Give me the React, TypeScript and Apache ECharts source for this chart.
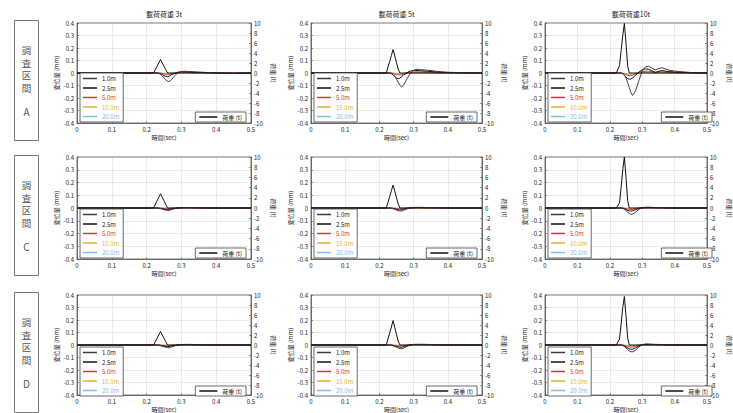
import React, { useEffect, useRef } from "react";
import * as echarts from "echarts";

// ---------- data ----------
const TIMES = [0, 0.2, 0.22, 0.23, 0.235, 0.24, 0.245, 0.25, 0.255, 0.26, 0.265, 0.27, 0.28, 0.29, 0.3, 0.31, 0.32, 0.34, 0.36, 0.38, 0.4, 0.45, 0.5];
const DIST_NAMES = ["1.0m", "2.5m", "5.0m", "10.0m", "20.0m"];
const LOAD_NAME = "荷重 (t)";
const COL_TITLES = ["載荷荷重 3t", "載荷荷重 5t", "載荷荷重10t"];
const ROW_CHARS = ["調", "査", "区", "間"];
const ROW_NAMES = ["A", "C", "D"];

const LOAD_A3 = [0, 0, 0, 1.35, 2.0, 2.7, 2.0, 1.35, 0.7, 0, 0, 0, 0, 0, 0, 0, 0, 0, 0, 0, 0, 0, 0];
const DISP_A3 = [
  [0, 0, 0, 0, -0.003, -0.01, -0.022, -0.038, -0.055, -0.066, -0.068, -0.058, -0.025, 0.003, 0.012, 0.014, 0.012, 0.009, 0.006, 0.003, 0, -0.004, 0],
  [0, 0, 0, 0, -0.002, -0.006, -0.012, -0.02, -0.026, -0.028, -0.024, -0.016, -0.004, 0.006, 0.01, 0.01, 0.009, 0.006, 0.004, 0.002, 0, -0.002, 0],
  [0, 0, 0, 0, 0, -0.002, -0.004, -0.007, -0.01, -0.011, -0.01, -0.007, -0.002, 0.003, 0.005, 0.005, 0.004, 0.003, 0.002, 0.001, 0, -0.001, 0],
  [0, 0, 0, 0, 0, -0.001, -0.002, -0.004, -0.005, -0.006, -0.006, -0.005, -0.002, 0.001, 0.003, 0.003, 0.003, 0.002, 0.001, 0, 0, 0, 0],
  [0, 0, 0, 0, 0, 0, -0.001, -0.002, -0.003, -0.003, -0.003, -0.003, -0.001, 0, 0.001, 0.002, 0.002, 0.001, 0.001, 0, 0, 0, 0],
];
const LOAD_A5 = [0, 0, 0, 2.3, 3.5, 4.7, 3.4, 2.1, 0.8, 0, 0, 0, 0, 0, 0, 0, 0, 0, 0, 0, 0, 0, 0];
const DISP_A5 = [
  [0, 0, 0, 0, -0.004, -0.012, -0.028, -0.05, -0.075, -0.098, -0.11, -0.1, -0.05, -0.005, 0.022, 0.03, 0.028, 0.022, 0.016, 0.01, 0.006, 0.002, 0],
  [0, 0, 0, 0, -0.005, -0.015, -0.028, -0.04, -0.045, -0.04, -0.03, -0.018, 0.002, 0.015, 0.02, 0.02, 0.018, 0.014, 0.01, 0.006, 0.004, 0.001, 0],
  [0, 0, 0, 0, 0, -0.004, -0.008, -0.012, -0.015, -0.016, -0.014, -0.01, -0.002, 0.005, 0.008, 0.009, 0.008, 0.006, 0.004, 0.002, 0.001, 0, 0],
  [0, 0, 0, 0, 0, -0.002, -0.004, -0.006, -0.008, -0.008, -0.007, -0.005, -0.001, 0.002, 0.004, 0.004, 0.004, 0.003, 0.002, 0.001, 0, 0, 0],
  [0, 0, 0, 0, 0, -0.001, -0.002, -0.003, -0.004, -0.004, -0.004, -0.003, -0.001, 0.001, 0.002, 0.002, 0.002, 0.001, 0.001, 0, 0, 0, 0],
];
const LOAD_A10 = [0, 0, 0, 1.5, 4.5, 7.5, 9.9, 6.0, 1.5, 0, 0, 0, 0, 0, 0, 0, 0, 0, 0, 0, 0, 0, 0];
const DISP_A10 = [
  [0, 0, 0, 0, 0, -0.005, -0.015, -0.04, -0.075, -0.115, -0.155, -0.18, -0.14, -0.06, 0.015, 0.05, 0.055, 0.025, 0.043, 0.025, 0.015, 0.004, 0],
  [0, 0, 0, 0, 0, -0.006, -0.018, -0.032, -0.045, -0.05, -0.048, -0.04, -0.018, 0.008, 0.025, 0.033, 0.03, 0.005, 0.02, 0.012, 0.008, 0.002, 0],
  [0, 0, 0, 0, 0, -0.003, -0.008, -0.013, -0.018, -0.021, -0.021, -0.018, -0.008, 0.004, 0.012, 0.015, 0.014, 0.006, 0.01, 0.006, 0.004, 0.001, 0],
  [0, 0, 0, 0, 0, -0.002, -0.004, -0.007, -0.009, -0.011, -0.011, -0.009, -0.004, 0.002, 0.006, 0.008, 0.007, 0.003, 0.005, 0.003, 0.002, 0, 0],
  [0, 0, 0, 0, 0, -0.001, -0.002, -0.003, -0.005, -0.005, -0.005, -0.004, -0.002, 0.001, 0.003, 0.004, 0.003, 0.002, 0.002, 0.001, 0.001, 0, 0],
];
const LOAD_C3 = [0, 0, 0, 1.4, 2.1, 2.8, 2.1, 1.4, 0.7, 0, 0, 0, 0, 0, 0, 0, 0, 0, 0, 0, 0, 0, 0];
const DISP_C3 = [
  [0, 0, 0, 0, -0.002, -0.005, -0.009, -0.013, -0.017, -0.019, -0.018, -0.014, -0.006, 0, 0.003, 0.004, 0.004, 0.003, 0.002, 0.001, 0, 0, 0],
  [0, 0, 0, 0, -0.001, -0.003, -0.006, -0.009, -0.011, -0.012, -0.011, -0.008, -0.003, 0.001, 0.002, 0.003, 0.003, 0.002, 0.001, 0, 0, 0, 0],
  [0, 0, 0, 0, 0, -0.001, -0.003, -0.004, -0.005, -0.006, -0.006, -0.004, -0.002, 0, 0.001, 0.002, 0.002, 0.001, 0.001, 0, 0, 0, 0],
  [0, 0, 0, 0, 0, 0, -0.001, -0.002, -0.003, -0.003, -0.003, -0.002, -0.001, 0, 0.001, 0.001, 0.001, 0, 0, 0, 0, 0, 0],
  [0, 0, 0, 0, 0, 0, 0, -0.001, -0.001, -0.002, -0.002, -0.001, 0, 0, 0, 0.001, 0, 0, 0, 0, 0, 0, 0],
];
const LOAD_C5 = [0, 0, 0, 2.2, 3.4, 4.5, 3.3, 2.0, 0.8, 0, 0, 0, 0, 0, 0, 0, 0, 0, 0, 0, 0, 0, 0];
const DISP_C5 = [
  [0, 0, 0, 0, -0.002, -0.006, -0.011, -0.016, -0.021, -0.024, -0.024, -0.019, -0.008, 0, 0.004, 0.005, 0.005, 0.004, 0.003, 0.002, 0.001, 0, 0],
  [0, 0, 0, 0, -0.001, -0.004, -0.007, -0.011, -0.014, -0.015, -0.013, -0.009, -0.003, 0.001, 0.003, 0.004, 0.003, 0.002, 0.002, 0.001, 0, 0, 0],
  [0, 0, 0, 0, 0, -0.002, -0.003, -0.005, -0.006, -0.007, -0.007, -0.005, -0.002, 0, 0.001, 0.002, 0.002, 0.001, 0.001, 0, 0, 0, 0],
  [0, 0, 0, 0, 0, -0.001, -0.002, -0.002, -0.003, -0.003, -0.003, -0.002, -0.001, 0, 0.001, 0.001, 0.001, 0, 0, 0, 0, 0, 0],
  [0, 0, 0, 0, 0, 0, -0.001, -0.001, -0.002, -0.002, -0.002, -0.001, 0, 0, 0, 0, 0, 0, 0, 0, 0, 0, 0],
];
const LOAD_C10 = [0, 0, 0, 1.0, 4.0, 7.5, 10.0, 6.0, 1.5, 0, 0, 0, 0, 0, 0, 0, 0, 0, 0, 0, 0, 0, 0];
const DISP_C10 = [
  [0, 0, 0, 0, 0, -0.003, -0.01, -0.02, -0.032, -0.043, -0.05, -0.048, -0.032, -0.01, 0.002, 0.006, 0.006, 0.004, 0.003, 0.002, 0.001, 0, 0],
  [0, 0, 0, 0, 0, -0.002, -0.006, -0.012, -0.018, -0.023, -0.025, -0.022, -0.013, -0.003, 0.002, 0.004, 0.004, 0.003, 0.002, 0.001, 0, 0, 0],
  [0, 0, 0, 0, 0, -0.001, -0.003, -0.006, -0.009, -0.011, -0.012, -0.011, -0.006, -0.001, 0.001, 0.002, 0.002, 0.001, 0.001, 0, 0, 0, 0],
  [0, 0, 0, 0, 0, 0, -0.001, -0.003, -0.004, -0.005, -0.006, -0.005, -0.003, -0.001, 0.001, 0.001, 0.001, 0.001, 0, 0, 0, 0, 0],
  [0, 0, 0, 0, 0, 0, -0.001, -0.001, -0.002, -0.003, -0.003, -0.002, -0.001, 0, 0, 0.001, 0, 0, 0, 0, 0, 0, 0],
];
const LOAD_D3 = [0, 0, 0, 1.35, 2.0, 2.7, 2.0, 1.35, 0.7, 0, 0, 0, 0, 0, 0, 0, 0, 0, 0, 0, 0, 0, 0];
const DISP_D3 = [
  [0, 0, 0, 0, -0.002, -0.005, -0.01, -0.014, -0.018, -0.021, -0.022, -0.017, -0.008, 0, 0.004, 0.005, 0.005, 0.004, 0.003, 0.002, 0.001, 0, 0],
  [0, 0, 0, 0, -0.001, -0.003, -0.006, -0.009, -0.011, -0.012, -0.012, -0.009, -0.004, 0.001, 0.003, 0.003, 0.003, 0.002, 0.001, 0, 0, 0, 0],
  [0, 0, 0, 0, 0, -0.001, -0.003, -0.004, -0.005, -0.006, -0.006, -0.005, -0.002, 0, 0.001, 0.002, 0.002, 0.001, 0.001, 0, 0, 0, 0],
  [0, 0, 0, 0, 0, 0, -0.001, -0.002, -0.003, -0.003, -0.003, -0.002, -0.001, 0, 0.001, 0.001, 0.001, 0, 0, 0, 0, 0, 0],
  [0, 0, 0, 0, 0, 0, 0, -0.001, -0.001, -0.002, -0.002, -0.001, 0, 0, 0, 0.001, 0, 0, 0, 0, 0, 0, 0],
];
const LOAD_D5 = [0, 0, 0, 2.4, 3.6, 4.9, 3.5, 2.1, 0.8, 0, 0, 0, 0, 0, 0, 0, 0, 0, 0, 0, 0, 0, 0];
const DISP_D5 = [
  [0, 0, 0, 0, -0.002, -0.006, -0.012, -0.018, -0.024, -0.028, -0.03, -0.026, -0.012, 0, 0.005, 0.006, 0.006, 0.005, 0.003, 0.002, 0.001, 0, 0],
  [0, 0, 0, 0, -0.001, -0.004, -0.008, -0.012, -0.015, -0.017, -0.018, -0.014, -0.006, 0.001, 0.004, 0.004, 0.004, 0.003, 0.002, 0.001, 0, 0, 0],
  [0, 0, 0, 0, 0, -0.002, -0.004, -0.006, -0.008, -0.009, -0.009, -0.007, -0.003, 0, 0.002, 0.002, 0.002, 0.001, 0.001, 0, 0, 0, 0],
  [0, 0, 0, 0, 0, -0.001, -0.002, -0.003, -0.004, -0.004, -0.004, -0.003, -0.001, 0, 0.001, 0.001, 0.001, 0, 0, 0, 0, 0, 0],
  [0, 0, 0, 0, 0, 0, -0.001, -0.001, -0.002, -0.002, -0.002, -0.002, -0.001, 0, 0, 0.001, 0, 0, 0, 0, 0, 0, 0],
];
const LOAD_D10 = [0, 0, 0, 1.2, 4.2, 7.5, 9.7, 5.8, 1.5, 0, 0, 0, 0, 0, 0, 0, 0, 0, 0, 0, 0, 0, 0];
const DISP_D10 = [
  [0, 0, 0, 0, 0, -0.004, -0.012, -0.024, -0.036, -0.047, -0.054, -0.055, -0.04, -0.015, 0.002, 0.008, 0.008, 0.005, 0.004, 0.002, 0.001, 0, 0],
  [0, 0, 0, 0, 0, -0.003, -0.008, -0.015, -0.023, -0.03, -0.034, -0.033, -0.022, -0.007, 0.002, 0.005, 0.005, 0.003, 0.002, 0.001, 0, 0, 0],
  [0, 0, 0, 0, 0, -0.001, -0.004, -0.008, -0.012, -0.015, -0.017, -0.016, -0.01, -0.003, 0.001, 0.003, 0.003, 0.002, 0.001, 0, 0, 0, 0],
  [0, 0, 0, 0, 0, 0, -0.002, -0.004, -0.005, -0.007, -0.008, -0.007, -0.004, -0.001, 0.001, 0.001, 0.001, 0.001, 0, 0, 0, 0, 0],
  [0, 0, 0, 0, 0, 0, -0.001, -0.002, -0.003, -0.003, -0.004, -0.003, -0.002, 0, 0, 0.001, 0, 0, 0, 0, 0, 0, 0],
];

const LOADS = [LOAD_A3, LOAD_A5, LOAD_A10, LOAD_C3, LOAD_C5, LOAD_C10, LOAD_D3, LOAD_D5, LOAD_D10];
const DISPS = [DISP_A3, DISP_A5, DISP_A10, DISP_C3, DISP_C5, DISP_C10, DISP_D3, DISP_D5, DISP_D10];

// ---------- layout / style ----------
const W = 733;
const H = 413;
const COL_LEFT = [77, 311, 545];
const COL_WIDTH = [174, 171, 172];
const ROW_TOP = [23, 157, 295];
const ROW_HEIGHT = [100, 102, 102];
const BOX_TOP = [20, 155, 292];
const BOX_H = 120;
const LINE_COLORS = ["#3c3c4e", "#111111", "#d8363c", "#e6b030", "#7cc2e6"];
const FONT = "'Noto Sans CJK JP', 'Noto Sans', sans-serif";
const AX = "#555";
const TXT = "#222";

function fmt1(v: number) {
  if (Math.abs(v) < 1e-9) return "0";
  return String(+v.toFixed(1));
}
function fmt0(v: number) {
  return String(Math.round(v));
}

function buildOption() {
  const grid: any[] = [];
  const xAxis: any[] = [];
  const yAxis: any[] = [];
  const series: any[] = [];
  const legend: any[] = [];
  const graphic: any[] = [];

  for (let r = 0; r < 3; r++) {
    for (let c = 0; c < 3; c++) {
      const p = r * 3 + c;
      const left = COL_LEFT[c];
      const width = COL_WIDTH[c];
      const top = ROW_TOP[r];
      const height = ROW_HEIGHT[r];
      const bottomPx = top + height;
      grid.push({ left, top, width, height, show: true, borderColor: AX, borderWidth: 0.8, backgroundColor: "transparent" });
      xAxis.push({
        type: "value",
        gridIndex: p,
        min: 0,
        max: 0.5,
        interval: 0.1,
        name: "時間(sec)",
        nameLocation: "middle",
        nameGap: 11,
        nameTextStyle: { fontSize: 6, color: TXT, fontFamily: FONT },
        axisLine: { onZero: false, lineStyle: { color: AX, width: 0.8 } },
        axisTick: { inside: true, length: 2, lineStyle: { color: AX, width: 0.6 } },
        axisLabel: { fontSize: 6, color: TXT, margin: 3, formatter: fmt1 },
        splitLine: { show: true, lineStyle: { type: "dotted", color: "#bbbbbb", width: 0.6 } },
      });
      yAxis.push({
        type: "value",
        gridIndex: p,
        position: "left",
        min: -0.4,
        max: 0.4,
        interval: 0.1,
        name: "変位量 (mm)",
        nameLocation: "middle",
        nameGap: 17,
        nameRotate: 90,
        nameTextStyle: { fontSize: 6, color: TXT, fontFamily: FONT },
        axisLine: { show: true, onZero: false, lineStyle: { color: AX, width: 0.8 } },
        axisTick: { show: true, inside: true, length: 2, lineStyle: { color: AX, width: 0.6 } },
        axisLabel: { fontSize: 6, color: TXT, margin: 3, formatter: fmt1 },
        splitLine: { show: true, lineStyle: { type: "dotted", color: "#bbbbbb", width: 0.6 } },
      });
      yAxis.push({
        type: "value",
        gridIndex: p,
        position: "right",
        min: -10,
        max: 10,
        interval: 2,
        name: "荷重 (t)",
        nameLocation: "middle",
        nameGap: 19,
        nameRotate: -90,
        nameTextStyle: { fontSize: 6, color: TXT, fontFamily: FONT },
        axisLine: { show: true, onZero: false, lineStyle: { color: AX, width: 0.8 } },
        axisTick: { show: true, inside: true, length: 2, lineStyle: { color: AX, width: 0.6 } },
        axisLabel: { show: true, fontSize: 6, color: TXT, margin: 3, formatter: fmt0 },
        splitLine: { show: false },
      });
      const disp = DISPS[p];
      for (let i = 4; i >= 0; i--) {
        series.push({
          type: "line",
          name: DIST_NAMES[i],
          xAxisIndex: p,
          yAxisIndex: 2 * p,
          symbol: "none",
          showSymbol: false,
          lineStyle: { width: 1, color: LINE_COLORS[i] },
          itemStyle: { color: LINE_COLORS[i] },
          data: TIMES.map((t, k) => [t, disp[i][k]]),
          z: 2,
        });
      }
      series.push({
        type: "line",
        name: LOAD_NAME,
        xAxisIndex: p,
        yAxisIndex: 2 * p + 1,
        symbol: "none",
        showSymbol: false,
        lineStyle: { width: 1, color: "#111" },
        itemStyle: { color: "#111" },
        data: TIMES.map((t, k) => [t, LOADS[p][k]]),
        z: 3,
      });
      legend.push({
        data: DIST_NAMES.map((n, i) => ({ name: n, textStyle: { color: i < 2 ? "#222" : LINE_COLORS[i] } })),
        orient: "vertical",
        left: left + 3,
        bottom: H - bottomPx + 1,
        icon: "rect",
        itemWidth: 14,
        itemHeight: 1.5,
        itemGap: 2.5,
        padding: [2, 4, 2, 3],
        borderColor: "#444",
        borderWidth: 0.8,
        backgroundColor: "#fff",
        textStyle: { fontSize: 6, lineHeight: 7, fontFamily: FONT },
        selectedMode: false,
        z: 5,
      });
      legend.push({
        data: [LOAD_NAME],
        orient: "horizontal",
        right: W - (left + width) + 5,
        bottom: H - bottomPx + 1,
        icon: "rect",
        itemWidth: 18,
        itemHeight: 1.5,
        padding: [2, 4, 2, 4],
        borderColor: "#444",
        borderWidth: 0.8,
        backgroundColor: "#fff",
        textStyle: { fontSize: 6, color: "#222", fontFamily: FONT },
        selectedMode: false,
        z: 5,
      });
    }
  }

  for (let c = 0; c < 3; c++) {
    graphic.push({
      type: "text",
      x: COL_LEFT[c] + COL_WIDTH[c] / 2,
      y: 14,
      style: { text: COL_TITLES[c], fontSize: 7, fill: TXT, fontFamily: FONT, align: "center", verticalAlign: "middle" },
    });
  }
  for (let r = 0; r < 3; r++) {
    graphic.push({
      type: "rect",
      shape: { x: 14.5, y: BOX_TOP[r] + 0.5, width: 24, height: BOX_H },
      style: { fill: "none", stroke: "#777", lineWidth: 1 },
    });
    ROW_CHARS.forEach((ch, k) => {
      graphic.push({
        type: "text",
        x: 26.5,
        y: BOX_TOP[r] + 30 + k * 12.5,
        style: { text: ch, fontSize: 9.5, lineHeight: 11, fill: "#555", fontFamily: FONT, align: "center", verticalAlign: "middle" },
      });
    });
    graphic.push({
      type: "text",
      x: 26.5,
      y: BOX_TOP[r] + 91,
      style: { text: ROW_NAMES[r], fontSize: 10, fill: "#555", fontFamily: FONT, align: "center", verticalAlign: "middle" },
    });
  }

  return {
    animation: false,
    backgroundColor: "#fff",
    textStyle: { fontFamily: FONT },
    grid,
    xAxis,
    yAxis,
    series,
    legend,
    graphic,
  };
}

export default function App() {
  const ref = useRef<HTMLDivElement>(null);
  useEffect(() => {
    if (!ref.current) return;
    const chart = echarts.init(ref.current, null, { renderer: "svg" });
    chart.setOption(buildOption() as any);
    return () => chart.dispose();
  }, []);
  return <div ref={ref} style={{ position: "absolute", left: 0, top: 0, width: W, height: H, background: "#fff" }} />;
}
